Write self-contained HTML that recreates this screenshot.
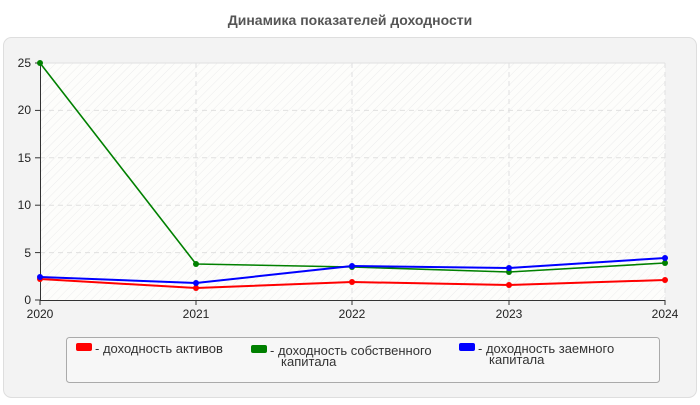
<!DOCTYPE html>
<html><head><meta charset="utf-8"><style>
body{margin:0;width:700px;height:400px;background:#fff;font-family:"Liberation Sans",sans-serif;overflow:hidden}
</style></head><body>
<svg width="700" height="400" xmlns="http://www.w3.org/2000/svg" font-family="Liberation Sans, sans-serif">
<defs>
<pattern id="h" width="6" height="6" patternUnits="userSpaceOnUse" patternTransform="rotate(45)">
<rect width="6" height="6" fill="#fdfdfb"/><line x1="0" y1="0" x2="0" y2="6" stroke="#ececec" stroke-width="1"/>
</pattern>
</defs>
<text x="350" y="25" text-anchor="middle" font-size="14" font-weight="bold" fill="#555">Динамика показателей доходности</text>
<rect x="3.5" y="37.5" width="693" height="360" rx="8" fill="#f3f3f3" stroke="#dedede"/>
<rect x="40" y="63" width="625" height="237" fill="url(#h)"/>
<g stroke="#e0e0e0" stroke-dasharray="5,4" fill="none">
<line x1="40" y1="63" x2="665" y2="63" stroke-dasharray="none"/>
<line x1="40" y1="110.4" x2="665" y2="110.4"/>
<line x1="40" y1="157.8" x2="665" y2="157.8"/>
<line x1="40" y1="205.2" x2="665" y2="205.2"/>
<line x1="40" y1="252.6" x2="665" y2="252.6"/>
<line x1="196" y1="63" x2="196" y2="300"/>
<line x1="352" y1="63" x2="352" y2="300"/>
<line x1="509" y1="63" x2="509" y2="300"/>
<line x1="665" y1="63" x2="665" y2="300"/>
</g>
<g stroke="#333" stroke-width="1">
<line x1="40.5" y1="63" x2="40.5" y2="300"/>
<line x1="40" y1="300.5" x2="665" y2="300.5"/>
<line x1="35" y1="63" x2="40" y2="63"/><line x1="35" y1="110.4" x2="40" y2="110.4"/><line x1="35" y1="157.8" x2="40" y2="157.8"/><line x1="35" y1="205.2" x2="40" y2="205.2"/><line x1="35" y1="252.6" x2="40" y2="252.6"/><line x1="35" y1="300" x2="40" y2="300"/>
<line x1="40" y1="300" x2="40" y2="305"/><line x1="196" y1="300" x2="196" y2="305"/><line x1="352" y1="300" x2="352" y2="305"/><line x1="509" y1="300" x2="509" y2="305"/><line x1="665" y1="300" x2="665" y2="305"/>
</g>
<g font-size="12" fill="#222" text-anchor="end">
<text x="31" y="67">25</text><text x="31" y="114">20</text><text x="31" y="162">15</text><text x="31" y="209">10</text><text x="31" y="257">5</text><text x="31" y="304">0</text>
</g>
<g font-size="12" fill="#222" text-anchor="middle">
<text x="40" y="318">2020</text><text x="196" y="318">2021</text><text x="352" y="318">2022</text><text x="509" y="318">2023</text><text x="665" y="318">2024</text>
</g>
<polyline points="40,279 196,288 352,282 509,285 665,280" fill="none" stroke="#f00" stroke-width="2"/>
<polyline points="40,63 196,264 352,267 509,272 665,263" fill="none" stroke="#008000" stroke-width="1.6"/>
<polyline points="40,277 196,283 352,266 509,268 665,258" fill="none" stroke="#00f" stroke-width="2"/>
<g fill="#f00"><circle cx="40" cy="279" r="3"/><circle cx="196" cy="288" r="3"/><circle cx="352" cy="282" r="3"/><circle cx="509" cy="285" r="3"/><circle cx="665" cy="280" r="3"/></g>
<g fill="#008000"><circle cx="40" cy="63" r="3"/><circle cx="196" cy="264" r="3"/><circle cx="352" cy="267" r="3"/><circle cx="509" cy="272" r="3"/><circle cx="665" cy="263" r="3"/></g>
<g fill="#00f"><circle cx="40" cy="277" r="3"/><circle cx="196" cy="283" r="3"/><circle cx="352" cy="266" r="3"/><circle cx="509" cy="268" r="3"/><circle cx="665" cy="258" r="3"/></g>
<rect x="66.5" y="337.5" width="593" height="45" rx="3" fill="#f7f7f7" stroke="#aaa"/>
<rect x="76" y="343" width="16" height="8" rx="2" fill="#f00"/>
<rect x="251" y="345" width="16" height="8" rx="2" fill="#008000"/>
<rect x="459" y="343" width="16" height="8" rx="2" fill="#00f"/>
<g font-size="13" fill="#333">
<text x="95" y="353">- доходность активов</text>
<text x="270" y="355">- доходность собственного</text>
<text x="281" y="366">капитала</text>
<text x="478" y="353">- доходность заемного</text>
<text x="489" y="364">капитала</text>
</g>
</svg>
</body></html>
